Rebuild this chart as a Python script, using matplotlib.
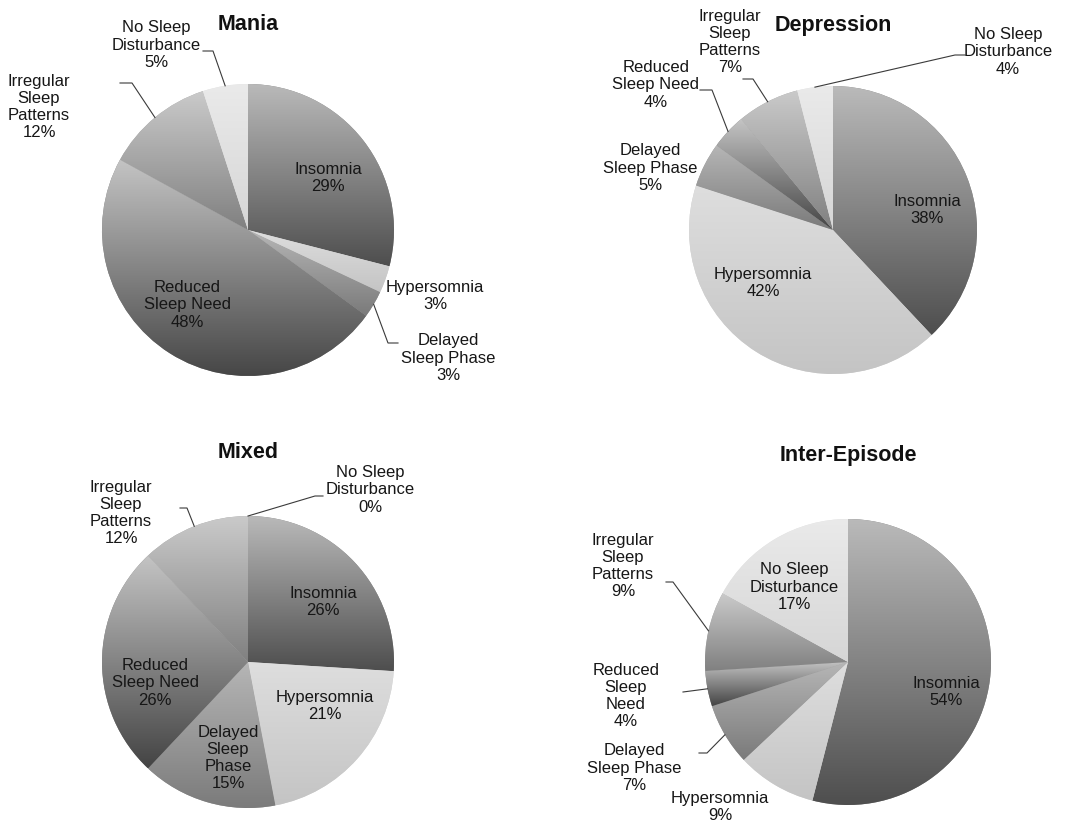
import numpy as np
import matplotlib.pyplot as plt
from matplotlib.colors import LinearSegmentedColormap

plt.rcParams['font.family'] = ['Liberation Sans', 'DejaVu Sans']

# data
categories = ['Insomnia', 'Hypersomnia', 'Delayed Sleep Phase', 'Reduced Sleep Need',
              'Irregular Sleep Patterns', 'No Sleep Disturbance']
titles = ['Mania', 'Depression', 'Mixed', 'Inter-Episode']
mania = [29, 3, 3, 48, 12, 5]
depression = [38, 42, 5, 4, 7, 4]
mixed = [26, 21, 15, 26, 12, 0]
inter_episode = [54, 9, 7, 4, 9, 17]

# how the names are wrapped in each pie
names_mania = ['Insomnia', 'Hypersomnia', 'Delayed\nSleep Phase', 'Reduced\nSleep Need',
               'Irregular\nSleep\nPatterns', 'No Sleep\nDisturbance']
names_depression = ['Insomnia', 'Hypersomnia', 'Delayed\nSleep Phase', 'Reduced\nSleep Need',
                    'Irregular\nSleep\nPatterns', 'No Sleep\nDisturbance']
names_mixed = ['Insomnia', 'Hypersomnia', 'Delayed\nSleep\nPhase', 'Reduced\nSleep Need',
               'Irregular\nSleep\nPatterns', 'No Sleep\nDisturbance']
names_inter = ['Insomnia', 'Hypersomnia', 'Delayed\nSleep Phase', 'Reduced\nSleep\nNeed',
               'Irregular\nSleep\nPatterns', 'No Sleep\nDisturbance']

# gradient greys (top, bottom) per category
shades = [(186, 78), (222, 196), (182, 122), (196, 68), (202, 128), (234, 214)]

W, H = 1083, 827

# layout in pixels (y down): centre, radius, title position
pies = [
    (mania, names_mania, (248, 230), 146, (248, 24)),
    (depression, names_depression, (833, 230), 144, (833, 25)),
    (mixed, names_mixed, (248, 662), 146, (248, 453)),
    (inter_episode, names_inter, (848, 662), 143, (848, 455)),
]
# label positions: (x, y, elbow) ; elbow=(ex, ey, hx) or None
labels = [
    [(328, 178, None), (435, 296, None), (448, 358, (388, 343, 398)),
     (187, 305, None), (39, 107, (132, 83, 120)), (156, 45, (213, 51, 203))],
    [(927, 210, None), (763, 283, None), (650, 168, None),
     (656, 85, (712, 90, 700)), (730, 42, (753, 79, 743)), (1008, 52, (955, 55, 965))],
    [(323, 602, None), (325, 706, None), (228, 758, None),
     (155, 683, None), (121, 513, (187, 508, 180)), (370, 490, (315, 496, 323))],
    [(946, 692, None), (720, 807, None), (634, 768, (707, 753, 699)),
     (626, 696, (683, 692, 683)), (623, 566, (673, 582, 666)), (794, 587, None)],
]

fig = plt.figure(figsize=(10.83, 8.27), dpi=100)
ax = fig.add_axes([0, 0, 1, 1])

for (vals, names, c, r, tpos), labs, title in zip(pies, labels, titles):
    cx, cy = c[0], H - c[1]
    wedges, _ = ax.pie(vals, center=(cx, cy), radius=r, startangle=90, counterclock=False,
                       wedgeprops=dict(linewidth=0))
    for w, (top, bot) in zip(wedges, shades):
        w.set_facecolor((np.array([top, top, top]) + np.array([bot, bot, bot])) / 510.0)
        verts = w.get_path().vertices
        if len(verts) == 0:
            continue
        x0, x1 = verts[:, 0].min(), verts[:, 0].max()
        y0, y1 = verts[:, 1].min(), verts[:, 1].max()
        if y1 - y0 < 1e-6:
            continue
        cmap = LinearSegmentedColormap.from_list('g', [(bot / 255.0,) * 3, (top / 255.0,) * 3])
        grad = np.linspace(0, 1, 256).reshape(-1, 1)
        im = ax.imshow(grad, cmap=cmap, extent=[x0, x1, y0, y1], origin='lower',
                       aspect='auto', interpolation='bilinear', zorder=2)
        im.set_clip_path(w)

    # label text and leader lines
    total = float(sum(vals))
    cum = 0.0
    for v, name, (lx, ly, elbow) in zip(vals, names, labs):
        mid = 90 - (cum + v / 2.0) / total * 360.0
        cum += v
        ax.text(lx, H - ly, '%s\n%d%%' % (name, v), ha='center', va='center',
                fontsize=12, linespacing=1.18, color='#161616', zorder=5)
        if elbow is not None:
            ex, ey, hx = elbow
            axp = cx + r * np.cos(np.radians(mid))
            ayp = cy + r * np.sin(np.radians(mid))
            ax.plot([axp, ex, hx], [ayp, H - ey, H - ey], color='#3a3a3a', lw=0.8, zorder=4)

    ax.text(tpos[0], H - tpos[1], title, ha='center', va='center', fontsize=15.5,
            fontweight='bold', color='#111111')

ax.set_xlim(0, W)
ax.set_ylim(0, H)
ax.set_aspect('auto')
ax.axis('off')

plt.savefig('out.png', dpi=100)
